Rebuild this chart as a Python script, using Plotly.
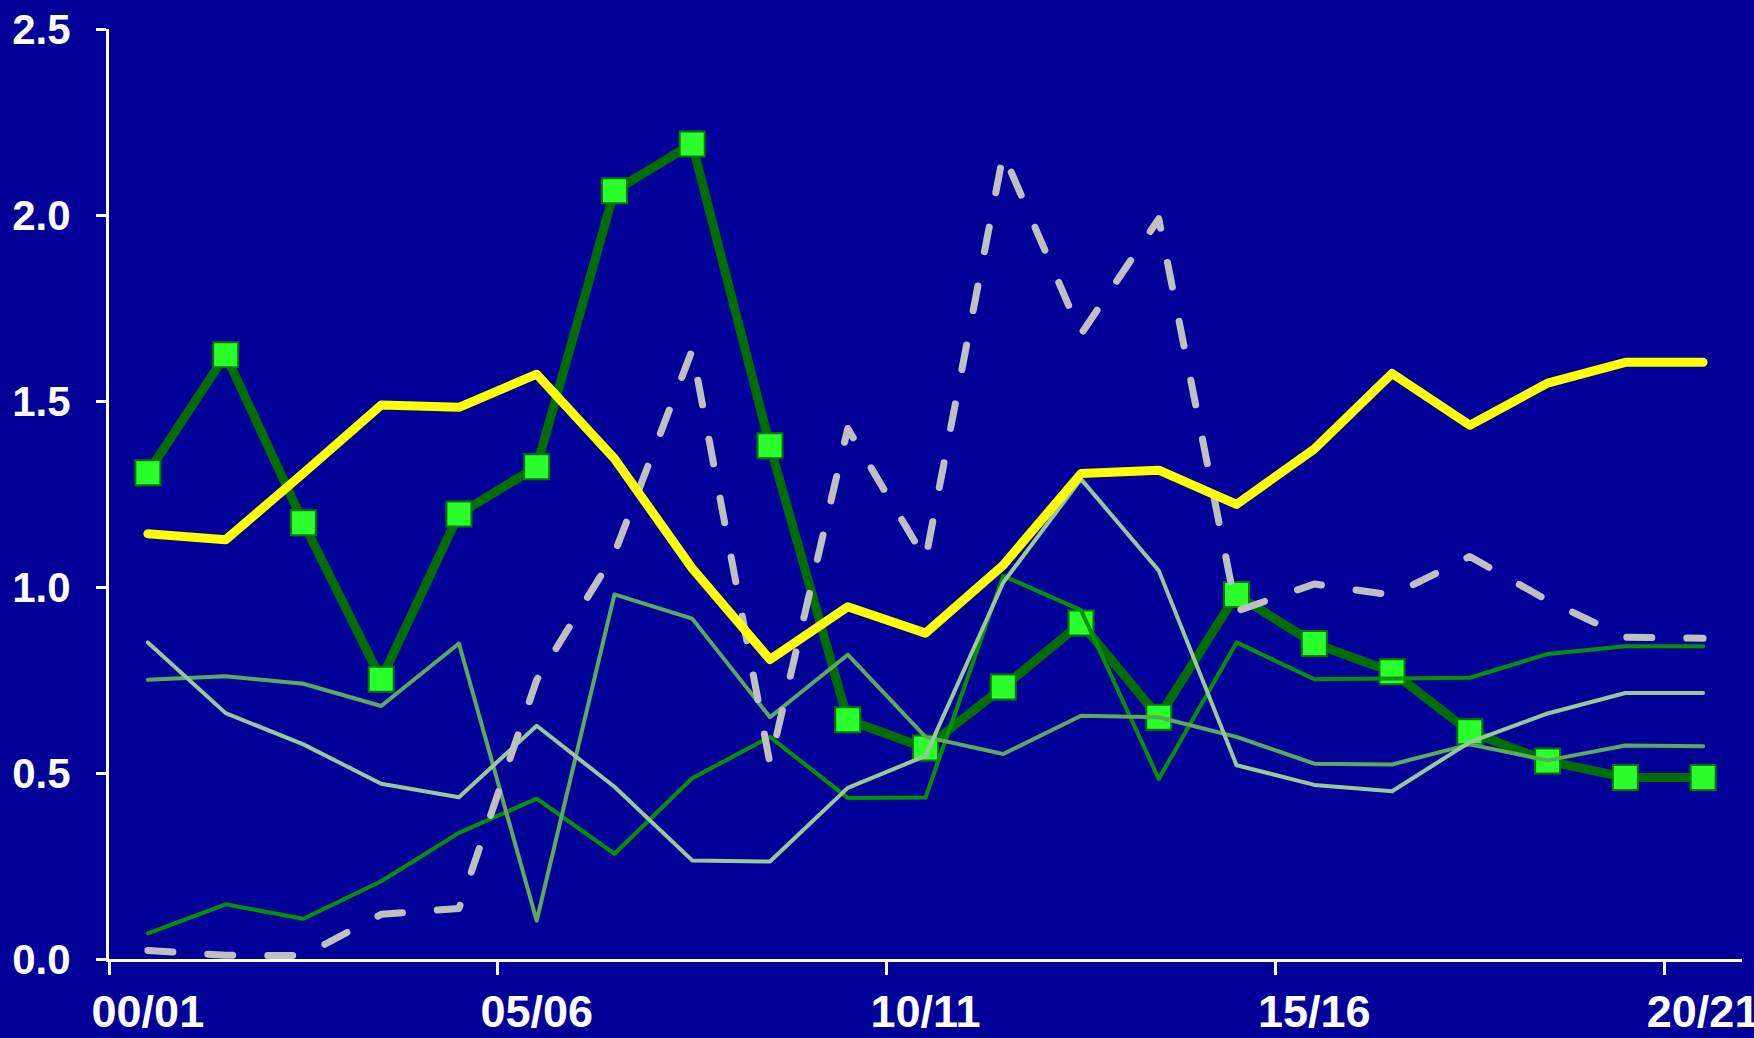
import plotly.graph_objects as go

categories = ["00/01", "01/02", "02/03", "03/04", "04/05", "05/06", "06/07", "07/08",
              "08/09", "09/10", "10/11", "11/12", "12/13", "13/14", "14/15", "15/16",
              "16/17", "17/18", "18/19", "19/20", "20/21"]

series_squares = [1.307, 1.624, 1.173, 0.752, 1.196, 1.323, 2.065, 2.191, 1.380, 0.643, 0.567,
                  0.731, 0.903, 0.650, 0.980, 0.848, 0.772, 0.611, 0.532, 0.488, 0.488]
series_yellow = [1.143, 1.127, 1.306, 1.489, 1.483, 1.572, 1.345, 1.050, 0.805, 0.947, 0.876,
                 1.059, 1.305, 1.314, 1.222, 1.371, 1.574, 1.435, 1.548, 1.604, 1.604]
series_dashed = [0.023, 0.010, 0.009, 0.120, 0.136, 0.750, 1.090, 1.637, 0.525, 1.426, 1.074,
                 2.165, 1.680, 1.990, 0.935, 1.008, 0.978, 1.082, 0.964, 0.865, 0.862]
series_green = [0.069, 0.147, 0.108, 0.209, 0.339, 0.431, 0.283, 0.486, 0.597, 0.433, 0.434,
                1.030, 0.938, 0.484, 0.851, 0.752, 0.754, 0.756, 0.820, 0.841, 0.841]
series_midgreen = [0.751, 0.760, 0.740, 0.680, 0.848, 0.103, 0.980, 0.915, 0.650, 0.818, 0.597,
                   0.551, 0.654, 0.650, 0.597, 0.525, 0.523, 0.577, 0.534, 0.574, 0.572]
series_light = [0.851, 0.661, 0.577, 0.471, 0.435, 0.627, 0.463, 0.265, 0.262, 0.460, 0.546,
                1.012, 1.290, 1.044, 0.521, 0.468, 0.451, 0.583, 0.660, 0.715, 0.715]

label_step = 5
y_ticks = [0.0, 0.5, 1.0, 1.5, 2.0, 2.5]

x = list(range(len(categories)))
label_pos = x[::label_step]
label_text = categories[::label_step]
boundary_pos = [p - 0.5 for p in label_pos]

BG = "#000099"
fig = go.Figure()

fig.add_trace(go.Scatter(x=x, y=series_squares, mode="lines+markers",
                         line=dict(color="#006F00", width=9),
                         marker=dict(symbol="square", size=25, color="#2BFF2B",
                                     line=dict(color="#007A00", width=2))))
fig.add_trace(go.Scatter(x=x, y=series_green, mode="lines",
                         line=dict(color="#009400", width=4)))
fig.add_trace(go.Scatter(x=x, y=series_midgreen, mode="lines",
                         line=dict(color="#5CAA5C", width=4)))
fig.add_trace(go.Scatter(x=x, y=series_light, mode="lines",
                         line=dict(color="#99C899", width=4)))
fig.add_trace(go.Scatter(x=x, y=series_dashed, mode="lines",
                         line=dict(color="#C0C0C0", width=7, dash="25px,35px")))
fig.add_trace(go.Scatter(x=x, y=series_yellow, mode="lines",
                         line=dict(color="#FFFF00", width=9)))

# invisible trace to anchor the label axis
fig.add_trace(go.Scatter(x=[x[0]], y=[None], xaxis="x2", showlegend=False, hoverinfo="skip"))

font_y = dict(family="Liberation Sans, Arial, sans-serif", size=42, color="white", weight="bold")
font_x = dict(family="Liberation Sans, Arial, sans-serif", size=45, color="white", weight="bold")

fig.update_layout(
    width=1754, height=1038,
    paper_bgcolor=BG, plot_bgcolor=BG,
    showlegend=False,
    margin=dict(l=108.5, r=12.3, t=29.3, b=78.7, autoexpand=False),
    xaxis=dict(range=[-0.5, len(categories) - 0.5], tickmode="array", tickvals=boundary_pos,
               showticklabels=False, ticks="outside", ticklen=13, tickwidth=3, tickcolor="white",
               showline=True, linecolor="white", linewidth=3, showgrid=False, zeroline=False,
               automargin=False),
    xaxis2=dict(range=[-0.5, len(categories) - 0.5], overlaying="x", side="bottom",
                anchor="y", tickmode="array", tickvals=label_pos, ticktext=label_text,
                ticks="outside", ticklen=13, tickcolor="rgba(0,0,0,0)", ticklabelstandoff=0,
                ticklabeloverflow="allow", automargin=False,
                tickfont=font_x, showline=False, showgrid=False, zeroline=False),
    yaxis=dict(range=[0, 2.5], tickmode="array", tickvals=y_ticks,
               ticktext=[f"{v:.1f}" for v in y_ticks],
               ticks="outside", ticklen=10, tickwidth=3, tickcolor="white",
               showline=True, linecolor="white", linewidth=3, showgrid=False, zeroline=False,
               tickfont=font_y, ticklabelstandoff=17, automargin=False,
               ticklabeloverflow="allow"),
)

post = """
document.body.style.margin='0px';
document.querySelectorAll('.scatterlayer .trace path.js-line').forEach(function(p){
  p.style.strokeLinecap='round'; p.style.strokeLinejoin='round';
});
"""

fig.write_html("out.html", config={"displayModeBar": False}, post_script=post)
